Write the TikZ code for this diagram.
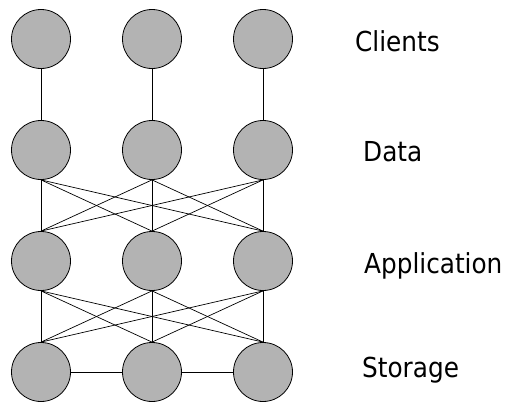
\documentclass[tikz,border=0pt]{standalone}
\usepackage{fontspec}
\setmainfont{DejaVu Sans Condensed}
\definecolor{nodegray}{RGB}{179,179,179}
\begin{document}
\begin{tikzpicture}[x=1pt,y=-1pt,
  unit/.style={circle,draw=black,fill=nodegray,line width=0.8pt,minimum size=59pt,inner sep=0pt},
  link/.style={draw=black,line width=0.7pt},
  tier/.style={anchor=base west,inner sep=0pt,font=\fontsize{27.5}{30}\selectfont}]
\useasboundingbox (0,0) rectangle (506,402);
\foreach \r/\y in {c/39,d/150,a/261,s/372}{
  \foreach \i/\x in {1/41,2/152,3/263}{
    \node[unit] (\r\i) at (\x,\y) {};
  }
}
\foreach \i in {1,2,3}{
  \draw[link] (c\i.south) -- (d\i.north);
  \foreach \j in {1,2,3}{
    \draw[link] (d\i.south) -- (a\j.north);
    \draw[link] (a\i.south) -- (s\j.north);
  }
}
\draw[link] (s1.east) -- (s2.west);
\draw[link] (s2.east) -- (s3.west);
\node[tier] (lc) at (355,51) {Clients};
\node[tier] (ld) at (363,161) {Data};
\node[tier] (la) at (364,273) {Application};
\node[tier] (ls) at (362,377) {Storage};
\end{tikzpicture}
\end{document}
